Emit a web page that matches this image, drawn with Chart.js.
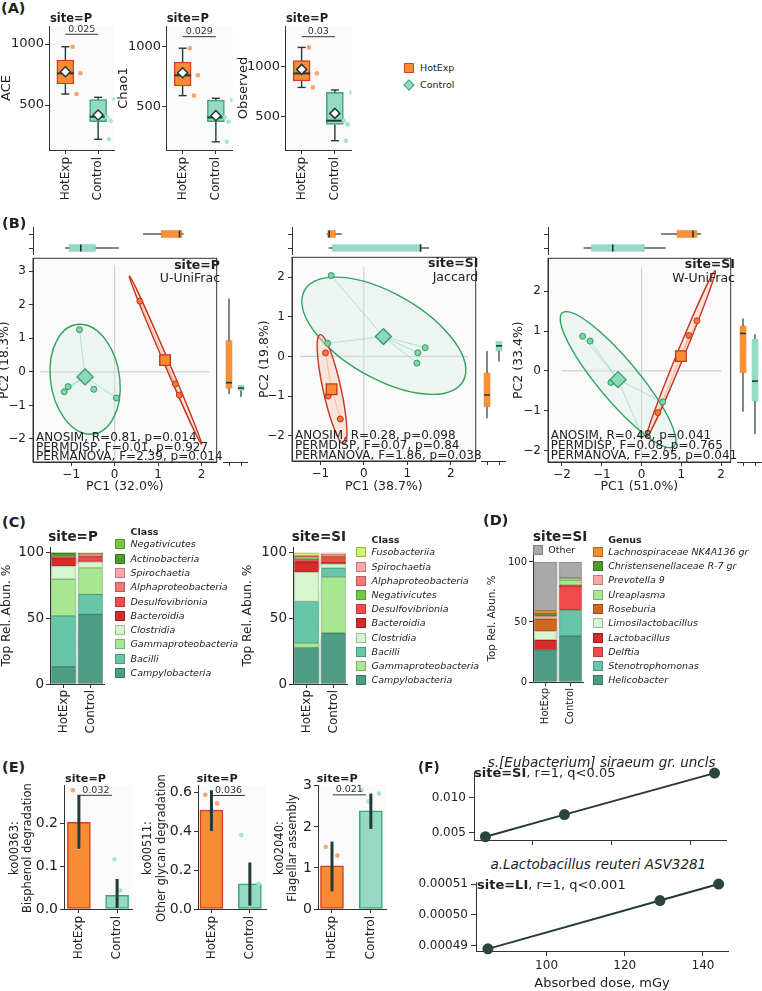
<!DOCTYPE html>
<html>
<head>
<meta charset="utf-8">
<title>Figure</title>
<script src="https://cdn.jsdelivr.net/npm/chart.js@4.4.1/dist/chart.umd.min.js"></script>
<style>
  html, body { margin: 0; background: #fff; }
  #fig { position: relative; width: 762px; height: 991px; overflow: hidden; font-family: 'DejaVu Sans', sans-serif; color: #222; }
  #fig canvas { position: absolute; }
  .t { position: absolute; white-space: nowrap; line-height: 1; }
  .sw { position: absolute; width: 10px; height: 10px; box-sizing: border-box; border: 1px solid; }
</style>
</head>
<body>
<div id="fig"></div>
<script>
/* groups */
const GROUPS = ['HotExp', 'Control'];

/* (A) alpha diversity, site=P */
const alphaNames = ['ACE', 'Chao1', 'Observed'];
// [min, q1, median, q3, max] for HotExp, Control
const alphaBox = [
  [[590, 672, 760, 869, 978], [219, 363, 404, 545, 563]],
  [[592, 672, 761, 872, 987], [207, 374, 410, 555, 570]],
  [[793, 857, 933, 1060, 1193], [260, 423, 460, 743, 767]]
];
const alphaMean = [[773, 418], [783, 425], [973, 533]];
const alphaPts = [
  [[978, 760, 590], [548, 404, 371, 219]],
  [[987, 761, 592], [555, 410, 374, 207]],
  [[1193, 933, 793], [743, 460, 423, 260]]
];
const alphaJitter = [[0.22, 0.46, 0.34], [0.5, 0.27, 0.38, 0.33]];
const alphaTicks = [500, 1000];
const alphaP = ['0.025', '0.029', '0.03'];
const alphaPLevel = [1080, 1083, 1300];

/* (B) PCoA */
const pcoaSite = ['site=P', 'site=SI', 'site=SI'];
const pcoaMetric = ['U-UniFrac', 'Jaccard', 'W-UniFrac'];
const pcoaPC1 = ['PC1 (32.0%)', 'PC1 (38.7%)', 'PC1 (51.0%)'];
const pcoaPC2 = ['PC2 (18.3%)', 'PC2 (19.8%)', 'PC2 (33.4%)'];
const pcoaStats = [
  ['ANOSIM, R=0.81, p=0.014', 'PERMDISP, F=0.01, p=0.927', 'PERMANOVA, F=2.39, p=0.014'],
  ['ANOSIM, R=0.28, p=0.098', 'PERMDISP, F=0.07, p=0.84', 'PERMANOVA, F=1.86, p=0.038'],
  ['ANOSIM, R=0.48, p=0.041', 'PERMDISP, F=0.08, p=0.765', 'PERMANOVA, F=2.95, p=0.041']
];
const ctrlPts = [
  [[-0.81, 1.26], [-1.16, -0.59], [-1.07, -0.44], [-0.48, -0.52], [0.04, -0.78]],
  [[-0.75, 2.04], [-0.83, 0.33], [1.41, 0.22], [1.24, 0.09], [1.22, -0.17]],
  [[-1.48, 0.87], [-1.29, 0.75], [-0.77, -0.29], [0.53, -0.78], [0.0, -1.6]]
];
const hotPts = [
  [[0.58, 2.11], [1.40, -0.36], [1.49, -0.69]],
  [[-0.88, 0.09], [-0.82, -1.0], [-0.54, -1.58]],
  [[0.41, -1.05], [1.19, 0.89], [1.39, 1.26]]
];
const ctrlCentroid = [[-0.68, -0.15], [0.45, 0.5], [-0.59, -0.22]];
const hotCentroid = [[1.16, 0.35], [-0.74, -0.83], [0.99, 0.37]];
// confidence ellipses: centre, two conjugate half-axes (PC units)
const ctrlEllipse = [
  [[-0.68, -0.22], [-0.12, 1.64], [0.80, 0]],
  [[0.46, 0.52], [-1.11, 1.48], [1.52, 0]],
  [[-0.59, -0.22], [-1.30, 1.71], [0.65, 0]]
];
const hotEllipse = [
  [[1.17, 0.35], [-0.83, 2.51], [0.06, 0]],
  [[-0.73, -0.83], [-0.27, 1.38], [0.21, 0]],
  [[0.99, 0.43], [0.86, 2.09], [0.10, 0]]
];
// marginal boxes [min, q1, median, q3, max] for HotExp, Control
const pc1Box = [
  [[0.58, 0.99, 1.40, 1.45, 1.49], [-1.16, -1.07, -0.81, -0.48, 0.04]],
  [[-0.88, -0.85, -0.82, -0.68, -0.54], [-0.83, -0.75, 1.22, 1.24, 1.41]],
  [[0.41, 0.80, 1.19, 1.29, 1.39], [-1.48, -1.29, -0.77, 0.0, 0.53]]
];
const pc2Box = [
  [[-0.69, -0.525, -0.36, 0.875, 2.11], [-0.78, -0.59, -0.52, -0.44, -0.44]],
  [[-1.58, -1.29, -1.0, -0.455, 0.09], [-0.17, 0.09, 0.22, 0.33, 0.33]],
  [[-1.05, -0.08, 0.89, 1.075, 1.26], [-1.6, -0.78, -0.29, 0.75, 0.87]]
];

/* (C) class composition */
const classP = ['Campylobacteria', 'Bacilli', 'Gammaproteobacteria', 'Clostridia', 'Bacteroidia', 'Desulfovibrionia', 'Alphaproteobacteria', 'Spirochaetia', 'Actinobacteria', 'Negativicutes'];
const classPHot = [13.1, 38.6, 27.8, 10.1, 6.1, 0.5, 0.3, 0.2, 2.4, 0.7];
const classPCtrl = [52.8, 15.2, 20.1, 4.6, 0.5, 3.5, 1.5, 0.5, 0.3, 0.6];
const classSI = ['Campylobacteria', 'Gammaproteobacteria', 'Bacilli', 'Clostridia', 'Bacteroidia', 'Desulfovibrionia', 'Negativicutes', 'Alphaproteobacteria', 'Spirochaetia', 'Fusobacteriia'];
const classSIHot = [27.7, 3.3, 31.6, 22.4, 7.6, 1.8, 1.2, 1.3, 0.6, 2.0];
const classSICtrl = [38.7, 42.4, 6.9, 3.1, 1.0, 4.6, 0.3, 1.2, 0.5, 0.8];

/* (D) genus composition, site=SI */
const genusSI = ['Helicobacter', 'Stenotrophomonas', 'Delftia', 'Lactobacillus', 'Limosilactobacillus', 'Roseburia', 'Ureaplasma', 'Prevotella 9', 'Christensenellaceae R-7 gr', 'Lachnospiraceae NK4A136 gr', 'Other'];
const genusHot = [26.7, 0, 0, 8.3, 7.5, 10.0, 0, 2.5, 2.0, 2.4, 40.6];
const genusCtrl = [38.3, 21.7, 19.4, 1.3, 0, 0, 4.0, 1.0, 0.5, 0.5, 13.3];

/* (E) KEGG pathways, site=P */
const keggNames = [['ko00363:', 'Bisphenol degradation'], ['ko00511:', 'Other glycan degradation'], ['ko02040:', 'Flagellar assembly']];
const keggMean = [[0.202, 0.032], [0.51, 0.13], [1.05, 2.39]];
const keggErr = [[[0.140, 0.266], [0.002, 0.070]], [[0.403, 0.613], [0.017, 0.240]], [[0.43, 1.64], [1.95, 2.81]]];
const keggPts = [
  [[0.277, 0.153, 0.142], [0.116, 0.043, 0.0]],
  [[0.59, 0.545], [0.382, 0.13, 0.02]],
  [[1.51, 1.30], [2.9, 2.62, 2.81]]
];
const keggJitter = [
  [[-0.16, 0.0, 0.0], [-0.07, 0.08, 0.0]],
  [[-0.16, 0.15], [-0.22, 0.23, 0.0]],
  [[-0.16, 0.14], [-0.24, -0.06, 0.21]]
];
const keggP = ['0.032', '0.036', '0.021'];
const keggPLevel = [0.265, 0.586, 2.78];

/* (F) dose correlations */
const doseSI = [88, 108, 146];
const siraeum = [0.00437, 0.00757, 0.01357];
const doseLI = [85, 129, 144];
const reuteri = [0.0004889, 0.0005047, 0.0005101];

/* ---------------- styles / helpers ---------------- */
const fig = document.getElementById('fig');
Chart.defaults.font.family = "'DejaVu Sans', sans-serif";
Chart.defaults.color = '#222';

const ORG = '#f78c35', ORG_E = '#d2401f', TEAL = '#95d8c5', TEAL_E = '#38ab6b', DARK = '#23393a';
const PT = ['#f9a66c', '#a6e3d2'];
const classColor = {
  Campylobacteria: '#4f9c86', Bacilli: '#68c6a8', Gammaproteobacteria: '#a9e893', Clostridia: '#d6f7cd',
  Bacteroidia: '#d42b2b', Desulfovibrionia: '#f24a4a', Alphaproteobacteria: '#f57676', Spirochaetia: '#f8a6a6',
  Actinobacteria: '#4d9a2e', Negativicutes: '#74c943', Fusobacteriia: '#cdf46a'
};
const genusColor = {
  'Helicobacter': '#4f9c86', 'Stenotrophomonas': '#68c6a8', 'Delftia': '#f24a4a', 'Lactobacillus': '#d42b2b',
  'Limosilactobacillus': '#d6f7cd', 'Roseburia': '#d0661f', 'Ureaplasma': '#a9e893', 'Prevotella 9': '#f8a6a6',
  'Christensenellaceae R-7 gr': '#4d9a2e', 'Lachnospiraceae NK4A136 gr': '#f68a2e', 'Other': '#a9a9a9'
};

const minus = v => (v < 0 ? '\u2212' + (-v) : String(v));

function seg(ctx, x1, y1, x2, y2) { ctx.beginPath(); ctx.moveTo(x1, y1); ctx.lineTo(x2, y2); ctx.stroke(); }
function rgba(hex, a) {
  const n = parseInt(hex.slice(1), 16);
  return `rgba(${n >> 16},${(n >> 8) & 255},${n & 255},${a})`;
}
function shade(hex, f) {
  const n = parseInt(hex.slice(1), 16);
  return 'rgb(' + [n >> 16, (n >> 8) & 255, n & 255].map(v => Math.round(v * f)).join(',') + ')';
}

function axis(type, position, o) {
  o = Object.assign({}, o || {});
  const tv = o.tv; delete o.tv;
  const ticks = Object.assign({color: '#222', padding: 2, font: {size: 12}},
    type === 'category' ? {minRotation: 90, maxRotation: 90, autoSkip: false} : {includeBounds: false},
    o.ticks || {});
  const res = Object.assign({
    type, position,
    grid: {drawOnChartArea: false, tickLength: 4, color: '#333', offset: false},
    border: {display: true, color: '#333', width: 1}
  }, o, {ticks});
  // fixed tick positions (Chart.js would otherwise spread ticks evenly between min and max)
  if (tv) res.afterBuildTicks = s => { s.ticks = tv.map(v => ({value: v})); };
  return res;
}

function zeroPad(s) { s.paddingLeft = s.paddingRight = s.paddingTop = s.paddingBottom = 0; }

// area = plot rectangle in page px, mg = canvas margins [left, top, right, bottom]
function mk(area, mg, cfg, o) {
  o = o || {};
  const [l, t, r, b] = area;
  const cl = l - mg[0], ct = t - mg[1];
  const w = Math.round(r - l + mg[0] + mg[2]), h = Math.round(b - t + mg[1] + mg[3]);
  const cv = document.createElement('canvas');
  cv.width = w; cv.height = h;
  Object.assign(cv.style, {left: cl + 'px', top: ct + 'px', width: w + 'px', height: h + 'px'});
  fig.appendChild(cv);
  const op = cfg.options = cfg.options || {};
  Object.assign(op, {responsive: false, animation: false, devicePixelRatio: 1, events: []});
  op.layout = {padding: {left: 0, top: mg[1], right: mg[2], bottom: 0}};
  op.plugins = Object.assign({legend: {display: false}, tooltip: {enabled: false}}, op.plugins || {});
  for (const s of Object.values(op.scales || {})) {
    if (s.display === false) continue;
    if (s.position === 'left') s.afterFit = sc => { sc.width = mg[0]; zeroPad(sc); };
    else if (s.position === 'bottom') s.afterFit = sc => { sc.height = mg[3]; zeroPad(sc); };
  }
  if (o.yTitle) {
    const f = o.yTitle.size;
    op.scales.y.title = {display: true, text: o.yTitle.text, color: '#222', font: {size: f},
      padding: {top: o.yTitle.x - cl - f * 0.6, bottom: 0}};
  }
  if (o.xTitle) {
    const f = o.xTitle.size;
    op.scales.x.title = {display: true, text: o.xTitle.text, color: '#222', font: {size: f},
      padding: {top: 0, bottom: ct + h - f * 0.6 - o.xTitle.y}};
  }
  cfg.plugins = [{
    id: 'deco',
    beforeDraw(c) {
      if (!o.bg) return;
      const a = c.chartArea;
      c.ctx.save(); c.ctx.fillStyle = o.bg; c.ctx.fillRect(a.left, a.top, a.width, a.height); c.ctx.restore();
    },
    beforeDatasetsDraw(c) { if (o.under) o.under(c); },
    afterDatasetDraw(c, args) { if (args.index === 0 && o.first) o.first(c); },
    afterDatasetsDraw(c) { if (o.over) o.over(c); },
    afterDraw(c) {
      if (!o.frame) return;
      const a = c.chartArea;
      c.ctx.save(); c.ctx.strokeStyle = o.frame; c.ctx.lineWidth = 1;
      c.ctx.strokeRect(a.left, a.top, a.width, a.height); c.ctx.restore();
    }
  }];
  return new Chart(cv, cfg);
}

// whiskers, caps and medians on top of floating-bar boxes
function boxDetails(c, stats, o) {
  const ctx = c.ctx;
  const cs = o.horizontal ? c.scales.y : c.scales.x, vs = o.horizontal ? c.scales.x : c.scales.y;
  ctx.save(); ctx.strokeStyle = o.color || DARK;
  stats.forEach((s, i) => {
    const m = cs.getPixelForValue(i), hw = o.thick / 2, P = v => vs.getPixelForValue(v);
    const L = (a1, b1, a2, b2) => (o.horizontal ? seg(ctx, b1, a1, b2, a2) : seg(ctx, a1, b1, a2, b2));
    ctx.lineWidth = o.lw || 1.4;
    L(m, P(s[0]), m, P(s[1]));
    L(m, P(s[3]), m, P(s[4]));
    if (o.cap) {
      L(m - o.cap / 2, P(s[0]), m + o.cap / 2, P(s[0]));
      L(m - o.cap / 2, P(s[4]), m + o.cap / 2, P(s[4]));
    }
    ctx.lineWidth = o.mlw || 2;
    L(m - hw, P(s[2]), m + hw, P(s[2]));
  });
  ctx.restore();
}

function bracket(c, x0, x1, level, label) {
  const ctx = c.ctx, xs = c.scales.x, y = c.scales.y.getPixelForValue(level);
  const p0 = xs.getPixelForValue(x0), p1 = xs.getPixelForValue(x1);
  ctx.save(); ctx.strokeStyle = '#333'; ctx.lineWidth = 1;
  seg(ctx, p0, y, p1, y);
  ctx.fillStyle = '#333'; ctx.font = "9.5px 'DejaVu Sans'";
  ctx.textAlign = 'center'; ctx.textBaseline = 'bottom';
  ctx.fillText(label, (p0 + p1) / 2, y - 0.5);
  ctx.restore();
}

function ellipse(c, e, stroke, fill) {
  const ctx = c.ctx, xs = c.scales.x, ys = c.scales.y;
  const P = (dx, dy) => [xs.getPixelForValue(e[0][0] + dx), ys.getPixelForValue(e[0][1] + dy)];
  const C = P(0, 0), U = P(e[1][0], e[1][1]), V = P(e[2][0], e[2][1]);
  ctx.save();
  ctx.beginPath();
  ctx.transform(U[0] - C[0], U[1] - C[1], V[0] - C[0], V[1] - C[1], C[0], C[1]);
  ctx.arc(0, 0, 1, 0, 2 * Math.PI);
  ctx.restore();
  ctx.save();
  ctx.fillStyle = fill; ctx.fill();
  ctx.strokeStyle = stroke; ctx.lineWidth = 1.4; ctx.stroke();
  ctx.restore();
}

function spider(c, cen, pts, color) {
  const ctx = c.ctx, xs = c.scales.x, ys = c.scales.y;
  ctx.save(); ctx.strokeStyle = color; ctx.lineWidth = 1;
  pts.forEach(p => seg(ctx, xs.getPixelForValue(cen[0]), ys.getPixelForValue(cen[1]), xs.getPixelForValue(p[0]), ys.getPixelForValue(p[1])));
  ctx.restore();
}

function cross(c, lim) {
  const ctx = c.ctx, xs = c.scales.x, ys = c.scales.y;
  ctx.save(); ctx.strokeStyle = '#d0d0d0'; ctx.lineWidth = 1.2;
  seg(ctx, xs.getPixelForValue(lim[0]), ys.getPixelForValue(0), xs.getPixelForValue(lim[1]), ys.getPixelForValue(0));
  seg(ctx, xs.getPixelForValue(0), ys.getPixelForValue(lim[2]), xs.getPixelForValue(0), ys.getPixelForValue(lim[3]));
  ctx.restore();
}

function alluvial(c) {
  const ctx = c.ctx;
  c.data.datasets.forEach((ds, i) => {
    const [a, b] = c.getDatasetMeta(i).data;
    if (!a || !b) return;
    const ax = a.x + a.width / 2, bx = b.x - b.width / 2;
    ctx.save(); ctx.fillStyle = rgba(ds.backgroundColor, 0.3);
    ctx.beginPath(); ctx.moveTo(ax, a.y); ctx.lineTo(bx, b.y); ctx.lineTo(bx, b.base); ctx.lineTo(ax, a.base);
    ctx.closePath(); ctx.fill(); ctx.restore();
  });
}

function tx(x, y, s, css, anchor) {
  const d = document.createElement('div');
  d.className = 't';
  d.innerHTML = s;
  d.style.cssText += `left:${x}px;top:${y}px;` + (css || '');
  d.style.transform = {l: 'translate(0,-50%)', c: 'translate(-50%,-50%)', r: 'translate(-100%,-50%)',
    v: 'translate(-50%,-50%) rotate(-90deg)'}[anchor || 'l'];
  fig.appendChild(d);
}
function swatch(x, y, col) {
  const d = document.createElement('div');
  d.className = 'sw';
  Object.assign(d.style, {left: x + 'px', top: (y - 5) + 'px', background: col, borderColor: shade(col, 0.75)});
  fig.appendChild(d);
}
function legend(x, y0, step, titleY, title, names, pal) {
  tx(x + 15.5, titleY, title, 'font-weight:bold;font-size:9.5px');
  names.forEach((n, i) => {
    swatch(x, y0 + i * step, pal[n]);
    tx(x + 15.5, y0 + i * step, n, 'font-style:italic;font-size:9.5px');
  });
}

const groupAxis = (lim, size) => axis('linear', 'bottom', {min: lim[0], max: lim[1], offset: false, tv: [0, 1],
  ticks: {minRotation: 90, maxRotation: 90, autoSkip: false, padding: 3, font: {size}, callback: v => GROUPS[v]}});

/* ---------------- (A) ---------------- */
const A_AREA = [[49.3, 26, 115, 150], [166, 26, 233, 150], [285, 26, 352, 150]];
const A_LIM = [[131, 1148], [139, 1172], [167, 1407]];
const A_YT = [7, 124, 244];
alphaNames.forEach((nm, k) => {
  const pts = [], pcol = [];
  alphaPts[k].forEach((arr, g) => arr.forEach((v, j) => { pts.push({x: g + alphaJitter[g][j], y: v}); pcol.push(PT[g]); }));
  mk(A_AREA[k], [52, 8, 6, 54], {
    type: 'bar',
    data: {datasets: [
      {order: 3, data: alphaBox[k].map((s, g) => ({x: g, y: [s[1], s[3]]})), backgroundColor: [ORG, TEAL], borderColor: [ORG_E, TEAL_E],
        borderWidth: 1.5, borderSkipped: false, barThickness: 17},
      {order: 2, type: 'scatter', data: pts, pointRadius: 2.3, pointBackgroundColor: pcol, pointBorderWidth: 0},
      {order: 1, type: 'scatter', data: alphaMean[k].map((m, g) => ({x: g, y: m})), pointStyle: 'rectRot',
        pointRadius: 5, pointBackgroundColor: '#fff', pointBorderColor: DARK, pointBorderWidth: 1.5}
    ]},
    options: {scales: {
      x: groupAxis([-0.5, 1.5], 12),
      y: axis('linear', 'left', {min: A_LIM[k][0], max: A_LIM[k][1], tv: alphaTicks, ticks: {font: {size: 13}, padding: 1, callback: v => String(v)}})
    }}
  }, {
    bg: '#fafafa', yTitle: {text: nm, x: A_YT[k], size: 13},
    first: c => boxDetails(c, alphaBox[k], {cap: 8, thick: 17}),
    over: c => bracket(c, 0, 1, alphaPLevel[k], alphaP[k])
  });
});

/* ---------------- (B) ---------------- */
const B_AREA = [[33.3, 255, 222.3, 461.7], [292.3, 254, 481, 461], [547.7, 255, 736, 461.7]];
const B_XLIM = [[-1.88, 2.35], [-1.65, 2.57], [-2.35, 2.24]];
const B_YLIM = [[-2.69, 3.39], [-2.64, 2.5], [-2.29, 2.83]];
const B_CROSS = [[-1.72, 2.18, -2.69, 3.2], [-1.47, 2.4, -2.64, 2.25], [-2.0, 2.0, -2.29, 2.6]];
const B_YT = [5, 265, 518.3];
const B_RIGHT = [[223.3, 247.3], [481, 505], [737, 761]];
const BOXC = ['#f7913a', '#97d9c7'];
pcoaMetric.forEach((m, k) => {
  const [l, t, r, b] = B_AREA[k];
  const xy = p => ({x: p[0], y: p[1]});
  mk(B_AREA[k], [40, 6, 4, 34], {
    type: 'scatter',
    data: {datasets: [
      {order: 2, data: ctrlPts[k].map(xy), pointRadius: 3, pointBackgroundColor: '#80d3ae', pointBorderColor: '#2f9e5a', pointBorderWidth: 1},
      {order: 2, data: hotPts[k].map(xy), pointRadius: 3, pointBackgroundColor: '#f2783c', pointBorderColor: '#c4331a', pointBorderWidth: 1},
      {order: 1, data: [xy(ctrlCentroid[k])], pointStyle: 'rectRot', pointRadius: 8, pointBackgroundColor: '#8fd6bf', pointBorderColor: '#2f9e5a', pointBorderWidth: 1.3},
      {order: 1, data: [xy(hotCentroid[k])], pointStyle: 'rect', pointRadius: 7.5, pointBackgroundColor: ORG, pointBorderColor: '#c4331a', pointBorderWidth: 1.3}
    ]},
    options: {scales: {
      x: axis('linear', 'bottom', {min: B_XLIM[k][0], max: B_XLIM[k][1], ticks: {stepSize: 1, padding: 2, callback: minus}}),
      y: axis('linear', 'left', {min: B_YLIM[k][0], max: B_YLIM[k][1], ticks: {stepSize: 1, padding: 3, callback: minus}})
    }}
  }, {
    bg: '#fafafa', frame: '#333',
    xTitle: {text: pcoaPC1[k], y: 487, size: 12.5}, yTitle: {text: pcoaPC2[k], x: B_YT[k], size: 12.5},
    under: c => {
      cross(c, B_CROSS[k]);
      ellipse(c, ctrlEllipse[k], '#2fa35c', 'rgba(205,236,224,0.3)');
      ellipse(c, hotEllipse[k], '#c8371d', 'rgba(250,205,185,0.45)');
      spider(c, ctrlCentroid[k], ctrlPts[k], 'rgba(130,205,180,0.55)');
      spider(c, hotCentroid[k], hotPts[k], 'rgba(240,150,110,0.55)');
    }
  });
  // top marginal PC1 boxes
  mk([l, 227, r, 255], [6, 0, 4, 0], {
    type: 'bar',
    data: {labels: GROUPS, datasets: [{data: pc1Box[k].map(s => [s[1], s[3]]), backgroundColor: BOXC, borderWidth: 0, barThickness: 7}]},
    options: {indexAxis: 'y', scales: {
      x: {type: 'linear', display: false, min: B_XLIM[k][0], max: B_XLIM[k][1]},
      y: axis('category', 'left', {ticks: {display: false}})
    }}
  }, {first: c => boxDetails(c, pc1Box[k], {horizontal: true, thick: 7, lw: 1.2, mlw: 1.6})});
  // right marginal PC2 boxes
  mk([B_RIGHT[k][0], t, B_RIGHT[k][1], b], [0, 0, 1, 6], {
    type: 'bar',
    data: {labels: GROUPS, datasets: [{data: pc2Box[k].map(s => [s[1], s[3]]), backgroundColor: BOXC, borderWidth: 0, barThickness: 6}]},
    options: {scales: {
      x: axis('category', 'bottom', {ticks: {display: false}}),
      y: {type: 'linear', display: false, min: B_YLIM[k][0], max: B_YLIM[k][1]}
    }}
  }, {first: c => boxDetails(c, pc2Box[k], {thick: 6, lw: 1.2, mlw: 1.6})});
});

/* ---------------- (C) and (D) ---------------- */
function stack(area, mgL, names, hot, ctrl, pal, ymax, thick, tfs, lfs, yt) {
  return mk(area, [mgL, 6, 4, 50], {
    type: 'bar',
    data: {labels: GROUPS, datasets: names.map((n, i) => ({
      data: [hot[i], ctrl[i]], backgroundColor: pal[n], borderColor: shade(pal[n], 0.78),
      borderWidth: ctx => (ctx.raw ? 1 : 0), borderSkipped: false, barThickness: thick
    }))},
    options: {scales: {
      x: axis('category', 'bottom', {stacked: true, ticks: {font: {size: lfs}, padding: 2}}),
      y: axis('linear', 'left', {stacked: true, min: 0, max: ymax, tv: [0, 50, 100], ticks: {font: {size: tfs}, padding: 2}})
    }}
  }, {yTitle: yt, under: alluvial});
}
stack([50, 547, 104, 683.5], 51, classP, classPHot, classPCtrl, classColor, 104, 24, 13.5, 12,
  {text: 'Top Rel. Abun. %', x: 7, size: 12.2});
stack([293.3, 547, 347.3, 683.5], 54, classSI, classSIHot, classSICtrl, classColor, 104, 24, 13.5, 12,
  {text: 'Top Rel. Abun. %', x: 248, size: 12.2});
stack([532.5, 555, 582, 682], 48, genusSI, genusHot, genusCtrl, genusColor, 105.8, 22, 10, 10,
  {text: 'Top Rel. Abun. %', x: 491.7, size: 10.3});

/* ---------------- (E) ---------------- */
const E_AREA = [[64.3, 785, 132.7, 909.3], [198.3, 785, 266.7, 909.3], [318.3, 785, 386, 909.3]];
const E_XLIM = [[-0.39, 1.39], [-0.35, 1.42], [-0.36, 1.39]];
const E_YMAX = [0.289, 0.64, 3.02];
const E_STEP = [0.1, 0.2, 1];
const E_DEC = [1, 1, 0];
keggNames.forEach((nm, k) => {
  const pts = [], pcol = [];
  keggPts[k].forEach((arr, g) => arr.forEach((v, j) => { pts.push({x: g + keggJitter[k][g][j], y: v}); pcol.push(PT[g]); }));
  mk(E_AREA[k], [45, 6, 4, 54], {
    type: 'bar',
    data: {datasets: [
      {order: 2, data: keggMean[k].map((v, g) => ({x: g, y: v})), backgroundColor: [ORG, TEAL], borderColor: [ORG_E, TEAL_E],
        borderWidth: 1.5, borderSkipped: false, barThickness: 23},
      {order: 1, type: 'scatter', data: pts, pointRadius: 2.3, pointBackgroundColor: pcol, pointBorderWidth: 0}
    ]},
    options: {scales: {
      x: groupAxis(E_XLIM[k], 12),
      y: axis('linear', 'left', {min: 0, max: E_YMAX[k], ticks: {stepSize: E_STEP[k], font: {size: 14}, padding: 2, callback: v => v.toFixed(E_DEC[k])}})
    }}
  }, {
    bg: '#fafafa',
    over: c => {
      const ctx = c.ctx, xs = c.scales.x, ys = c.scales.y;
      ctx.save(); ctx.strokeStyle = DARK; ctx.lineWidth = 3;
      keggErr[k].forEach((e, g) => seg(ctx, xs.getPixelForValue(g), ys.getPixelForValue(e[0]), xs.getPixelForValue(g), ys.getPixelForValue(e[1])));
      ctx.restore();
      bracket(c, 0.02, 0.87, keggPLevel[k], keggP[k]);
    }
  });
});

/* ---------------- (F) ---------------- */
const lineSet = (xs, ys) => ({
  data: xs.map((d, i) => ({x: d, y: ys[i]})), showLine: true, borderColor: DARK, borderWidth: 2,
  pointRadius: 4.5, pointBackgroundColor: '#2d4540', pointBorderColor: '#2d4540', clip: false
});
const fGrid = {drawOnChartArea: false, tickLength: 5, color: '#333'};
mk([474, 771.7, 726, 840], [72, 6, 8, 10], {
  type: 'scatter',
  data: {datasets: [lineSet(doseSI, siraeum)]},
  options: {scales: {
    x: axis('linear', 'bottom', {min: 85.1, max: 148.9, grid: fGrid, tv: [100, 120, 140], ticks: {display: false}}),
    y: axis('linear', 'left', {min: 0.0039, max: 0.01366, grid: fGrid, tv: [0.005, 0.010], ticks: {padding: 3, callback: v => v.toFixed(3)}})
  }}
});
mk([476, 881.7, 728.3, 950.7], [72, 6, 8, 41], {
  type: 'scatter',
  data: {datasets: [lineSet(doseLI, reuteri)]},
  options: {scales: {
    x: axis('linear', 'bottom', {min: 81.95, max: 146.4, grid: fGrid, tv: [100, 120, 140], ticks: {padding: 3}}),
    y: axis('linear', 'left', {min: 0.0004882, max: 0.0005106, grid: fGrid, tv: [0.00049, 0.00050, 0.00051], ticks: {padding: 3, callback: v => v.toFixed(5)}})
  }}
}, {xTitle: {text: 'Absorbed dose, mGy', y: 983, size: 13}});

/* ---------------- texts ---------------- */
const B = 'font-weight:bold;';
tx(1, 8, '(A)', B + 'font-size:14.5px');
[50, 166.7, 286].forEach(x => tx(x, 19.3, 'site=P', B + 'font-size:11.5px'));
// legend of panel A
(function () {
  const s = document.createElement('div');
  Object.assign(s.style, {position: 'absolute', left: '404px', top: '63px', width: '10px', height: '10px', boxSizing: 'border-box',
    background: ORG, border: '1.5px solid ' + ORG_E});
  fig.appendChild(s);
  const d = document.createElement('div');
  Object.assign(d.style, {position: 'absolute', left: '405px', top: '81px', width: '8px', height: '8px', boxSizing: 'border-box',
    background: TEAL, border: '1.5px solid ' + TEAL_E, transform: 'rotate(45deg)'});
  fig.appendChild(d);
})();
tx(420, 68, 'HotExp', 'font-size:9.5px');
tx(420, 85, 'Control', 'font-size:9.5px');

tx(2, 223, '(B)', B + 'font-size:14.5px');
const B_SITE = [[220, 265, 278.3], [478.3, 263.3, 276.7], [735, 264, 277.7]];
const B_STAT = [[36, 437, 446.5, 456], [295, 435, 445, 455.3], [550.7, 435, 445.3, 455.3]];
pcoaMetric.forEach((m, k) => {
  tx(B_SITE[k][0], B_SITE[k][1], pcoaSite[k], B + 'font-size:12.5px', 'r');
  tx(B_SITE[k][0], B_SITE[k][2], m, 'font-size:12.5px', 'r');
  pcoaStats[k].forEach((s, i) => tx(B_STAT[k][0], B_STAT[k][i + 1], s, 'font-size:12px'));
});

tx(2, 521.7, '(C)', B + 'font-size:14.5px');
tx(48.3, 537.3, 'site=P', B + 'font-size:13.5px');
tx(291.7, 537, 'site=SI', B + 'font-size:13.5px');
legend(115, 544.3, 14.3, 531.7, 'Class', classP.slice().reverse(), classColor);
legend(356, 552.3, 14.2, 540, 'Class', classSI.slice().reverse(), classColor);

tx(483, 520, '(D)', B + 'font-size:14.5px');
tx(533, 537, 'site=SI', B + 'font-size:13.5px');
swatch(533, 549.5, genusColor.Other);
tx(548.3, 549.5, 'Other', 'font-size:9.5px');
legend(592.7, 551.7, 14.3, 540, 'Genus', genusSI.slice(0, -1).reverse(), genusColor);

tx(2, 766.7, '(E)', B + 'font-size:14.5px');
[65, 196.7, 316.7].forEach(x => tx(x, 779, 'site=P', B + 'font-size:11.2px'));
const E_YT = [[15, 28.3], [148.3, 161.7], [280, 292.7]];
keggNames.forEach((nm, k) => {
  tx(E_YT[k][0], 848, nm[0], 'font-size:11.5px', 'v');
  tx(E_YT[k][1], 848, nm[1], 'font-size:11.5px', 'v');
});

tx(418, 768, '(F)', B + 'font-size:13.5px');
tx(601.7, 763.3, 's.[Eubacterium] siraeum gr. uncls', 'font-style:italic;font-size:13.5px', 'c');
tx(474, 772, '<b>site=SI</b>, r=1, q&lt;0.05', 'font-size:13px');
tx(598.3, 865, 'a.Lactobacillus reuteri ASV3281', 'font-style:italic;font-size:13.5px', 'c');
tx(477, 884, '<b>site=LI</b>, r=1, q&lt;0.001', 'font-size:13px');
</script>
</body>
</html>
